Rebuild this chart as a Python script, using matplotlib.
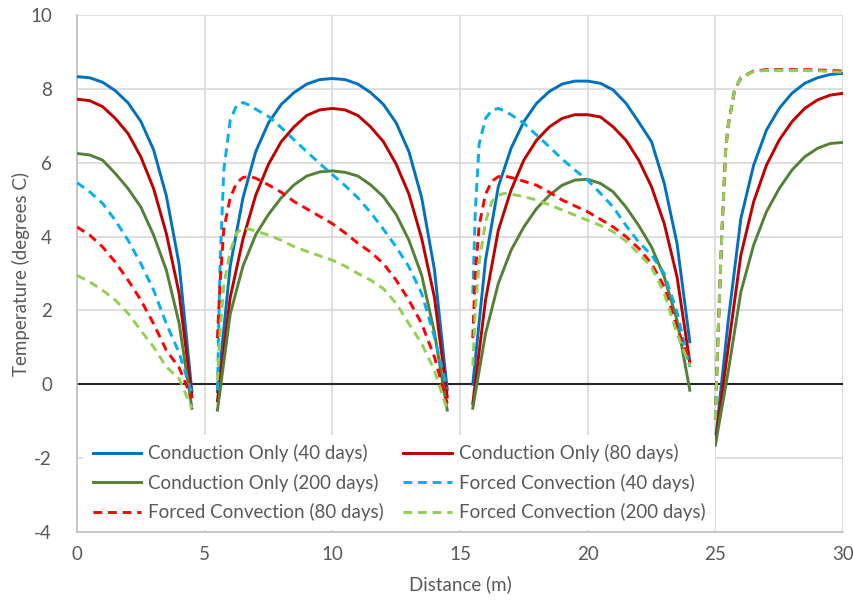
import numpy as np
import matplotlib
matplotlib.use("Agg")
import matplotlib.pyplot as plt

plt.rcParams['font.family'] = ['Lato', 'DejaVu Sans']
plt.rcParams['axes.unicode_minus'] = False

# distance grids (m) for the four sections between pipes
x_cond = [
    [0, 0.5, 1, 1.5, 2, 2.5, 3, 3.5, 4, 4.5],
    [5.5, 6, 6.5, 7, 7.5, 8, 8.5, 9, 9.5, 10, 10.5, 11, 11.5, 12, 12.5, 13, 13.5, 14, 14.5],
    [15.5, 16, 16.5, 17, 17.5, 18, 18.5, 19, 19.5, 20, 20.5, 21, 21.5, 22, 22.5, 23, 23.5, 24],
    [25, 25.5, 26, 26.5, 27, 27.5, 28, 28.5, 29, 29.5, 30],
]
x_forced = [
    [0, 0.5, 1, 1.5, 2, 2.5, 3, 3.5, 4, 4.5],
    [5.5, 5.6, 5.75, 6, 6.25, 6.5, 6.75, 7, 7.5, 8, 8.5, 9, 9.5, 10, 10.5, 11, 11.5, 12, 12.5, 13, 13.5, 14, 14.5],
    [15.5, 15.6, 15.75, 16, 16.25, 16.5, 16.75, 17, 17.5, 18, 18.5, 19, 19.5, 20, 20.5, 21, 21.5, 22, 22.5, 23, 23.5, 24],
    [25, 25.1, 25.25, 25.4, 25.5, 25.75, 26, 26.5, 27, 27.5, 28, 28.5, 29, 29.5, 30],
]

cond_40 = [
    [8.33, 8.3, 8.18, 7.95, 7.62, 7.12, 6.35, 5.1, 3.25, -0.2],
    [-0.2, 3.2, 5.05, 6.3, 7.08, 7.58, 7.9, 8.13, 8.25, 8.28, 8.25, 8.13, 7.9, 7.58, 7.08, 6.3, 5.05, 3.1, -0.15],
    [0.0, 3.36, 5.35, 6.39, 7.11, 7.61, 7.93, 8.13, 8.21, 8.21, 8.15, 7.97, 7.61, 7.1, 6.57, 5.44, 3.81, 1.15],
    [-1.56, 1.69, 4.49, 5.93, 6.88, 7.47, 7.88, 8.15, 8.3, 8.39, 8.42],
]
cond_80 = [
    [7.72, 7.68, 7.52, 7.2, 6.79, 6.16, 5.3, 4.08, 2.46, -0.34],
    [-0.45, 2.35, 3.93, 5.12, 5.96, 6.57, 6.97, 7.28, 7.43, 7.47, 7.43, 7.28, 6.97, 6.57, 5.96, 5.15, 3.95, 2.35, -0.34],
    [-0.52, 2.28, 4.17, 5.26, 6.07, 6.61, 6.97, 7.2, 7.3, 7.3, 7.24, 6.97, 6.61, 6.07, 5.35, 4.35, 2.91, 0.6],
    [-1.6, 0.97, 3.5, 4.94, 5.93, 6.61, 7.11, 7.47, 7.7, 7.83, 7.88],
]
cond_200 = [
    [6.25, 6.21, 6.07, 5.71, 5.3, 4.8, 4.04, 3.09, 1.65, -0.65],
    [-0.7, 1.9, 3.2, 4.05, 4.6, 5.05, 5.4, 5.64, 5.75, 5.78, 5.74, 5.64, 5.4, 5.08, 4.6, 3.9, 2.95, 1.4, -0.7],
    [-0.65, 1.37, 2.73, 3.63, 4.26, 4.76, 5.12, 5.39, 5.53, 5.55, 5.44, 5.21, 4.8, 4.3, 3.72, 2.91, 1.73, -0.16],
    [-1.65, 0.33, 2.5, 3.77, 4.67, 5.3, 5.8, 6.16, 6.39, 6.52, 6.55],
]
forced_40 = [
    [5.46, 5.21, 4.9, 4.44, 3.9, 3.27, 2.55, 1.64, 0.85, -0.25],
    [-0.16, 3.2, 5.8, 7.15, 7.55, 7.63, 7.56, 7.45, 7.25, 6.95, 6.62, 6.3, 5.98, 5.68, 5.38, 5.05, 4.65, 4.2, 3.72, 3.18, 2.46, 1.28, -0.12],
    [2.45, 4.7, 6.5, 7.2, 7.42, 7.47, 7.4, 7.3, 7.07, 6.75, 6.43, 6.1, 5.8, 5.53, 5.17, 4.8, 4.3, 3.85, 3.5, 3.0, 1.95, 0.47],
    [-0.95, 1.2, 4.0, 6.3, 7.0, 7.95, 8.3, 8.48, 8.51, 8.51, 8.51, 8.51, 8.5, 8.49, 8.47],
]
forced_80 = [
    [4.26, 4.04, 3.72, 3.31, 2.82, 2.28, 1.64, 0.92, 0.45, -0.38],
    [1.25, 2.7, 4.2, 5.05, 5.45, 5.6, 5.63, 5.58, 5.4, 5.2, 4.95, 4.75, 4.55, 4.35, 4.1, 3.82, 3.58, 3.27, 2.82, 2.28, 1.64, 0.74, -0.52],
    [1.25, 3.0, 4.3, 5.15, 5.5, 5.62, 5.64, 5.6, 5.5, 5.39, 5.2, 4.99, 4.83, 4.67, 4.47, 4.26, 4.0, 3.68, 3.27, 2.64, 1.55, 0.6],
    [-0.95, 1.2, 4.0, 6.3, 7.0, 7.95, 8.3, 8.48, 8.52, 8.52, 8.52, 8.52, 8.51, 8.5, 8.48],
]
forced_200 = [
    [2.95, 2.77, 2.55, 2.28, 1.92, 1.46, 1.01, 0.47, 0.15, -0.65],
    [0.1, 1.4, 2.7, 3.6, 4.1, 4.22, 4.2, 4.15, 4.04, 3.9, 3.73, 3.6, 3.48, 3.36, 3.2, 3.0, 2.82, 2.59, 2.19, 1.64, 1.1, 0.38, -0.7],
    [0.5, 2.0, 3.3, 4.4, 4.95, 5.12, 5.17, 5.15, 5.08, 4.99, 4.86, 4.72, 4.58, 4.44, 4.3, 4.13, 3.88, 3.54, 3.18, 2.46, 1.37, 0.5],
    [-0.95, 1.2, 4.0, 6.3, 7.0, 7.95, 8.3, 8.47, 8.5, 8.5, 8.5, 8.5, 8.49, 8.47, 8.45],
]

labels = ['Conduction Only (40 days)', 'Conduction Only (80 days)', 'Conduction Only (200 days)',
          'Forced Convection (40 days)', 'Forced Convection (80 days)', 'Forced Convection (200 days)']
colors = ['#0070C0', '#C00000', '#538135', '#00B0F0', '#FF0000', '#92D050']


def join(xs, ys):
    # glue the sections together with gaps between them
    X, Y = [], []
    for xx, yy in zip(xs, ys):
        X += list(xx) + [np.nan]
        Y += list(yy) + [np.nan]
    return X, Y


fig = plt.figure(figsize=(8.54, 6.02), dpi=100)
ax = fig.add_axes([77 / 854, 1 - 532 / 602, 766 / 854, 517 / 602])

series = [cond_40, cond_80, cond_200, forced_40, forced_80, forced_200]
handles = []
for i, s in enumerate(series):
    forced = i >= 3
    X, Y = join(x_forced if forced else x_cond, s)
    ls = (0, (3, 2.0)) if forced else '-'
    h, = ax.plot(X, Y, color=colors[i], lw=2.1, ls=ls, label=labels[i], zorder=3 + i)
    handles.append(h)

ax.axhline(0, color='#262626', lw=1.5, zorder=2)

ax.set_xlim(0, 30)
ax.set_ylim(-4, 10)
ax.set_xticks(range(0, 31, 5))
ax.set_yticks(range(-4, 11, 2))
ax.grid(True, color='#D9D9D9', lw=1.2, zorder=0)
ax.set_axisbelow(True)
for side in ['top', 'right']:
    ax.spines[side].set_visible(False)
for side in ['left', 'bottom']:
    ax.spines[side].set_color('#BFBFBF')
    ax.spines[side].set_linewidth(1.2)
ax.tick_params(length=0, labelsize=13.5, labelcolor='#595959')
ax.tick_params(axis='y', pad=18)
ax.tick_params(axis='x', pad=10)
ax.set_xlabel('Distance (m)', fontsize=13.5, color='#595959', labelpad=9)
ax.set_ylabel('Temperature (degrees C)', fontsize=13.5, color='#595959', labelpad=0)

order = [0, 2, 4, 1, 3, 5]
leg = ax.legend([handles[k] for k in order], [labels[k] for k in order], ncol=2,
                loc='lower left', bbox_to_anchor=(0.008, 0.003), borderaxespad=0,
                fontsize=13.5, frameon=True, facecolor='white', edgecolor='none', framealpha=1,
                fancybox=False, handlelength=2.6, handletextpad=0.35, columnspacing=1.05,
                labelspacing=0.6, borderpad=0.5)
for t in leg.get_texts():
    t.set_color('#595959')
leg.set_zorder(20)

fig.savefig('out.png', dpi=100)
